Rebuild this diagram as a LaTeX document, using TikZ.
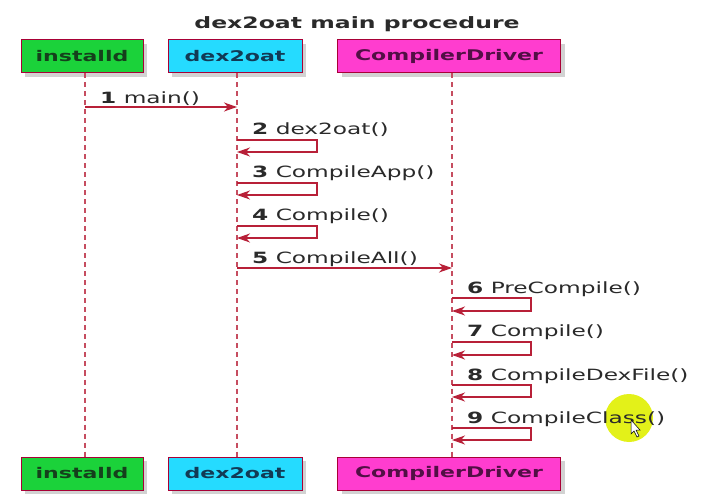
\documentclass[tikz,border=0pt]{standalone}
\usepackage{fontspec}
\setmainfont{DejaVu Sans}[FakeStretch=1.5]
\usetikzlibrary{arrows.meta,shadows}
\definecolor{brd}{HTML}{A80036}
\definecolor{arr}{HTML}{B82038}
\definecolor{gfill}{HTML}{1BD23A}
\definecolor{cfill}{HTML}{25DBFF}
\definecolor{mfill}{HTML}{FF3DCF}
\definecolor{gtext}{HTML}{15401C}
\definecolor{ctext}{HTML}{123A55}
\definecolor{mtext}{HTML}{520F45}
\definecolor{lblc}{HTML}{2A2A2A}
\definecolor{hl}{HTML}{E0F000}
\begin{document}
\begin{tikzpicture}[x=1pt,y=-1pt,
  part/.style={draw=brd, line width=1pt, minimum height=33pt, inner sep=0pt,
    font=\fontsize{14.7}{16}\selectfont\bfseries,
    drop shadow={shadow xshift=4pt,shadow yshift=-4pt,opacity=0.35}},
  life/.style={draw=arr!80, line width=1.2pt, dash pattern=on 5pt off 4pt},
  msg/.style={draw=arr, line width=1.2pt, -{Stealth[length=13pt,width=9pt,inset=4pt]}},
  lbl/.style={anchor=base west, inner sep=0pt, text=lblc, font=\fontsize{15.5}{17}\selectfont},
]
\useasboundingbox (0,0) rectangle (709,502);
\fill[white] (0,0) rectangle (709,502);

\node[font=\fontsize{15.7}{18}\selectfont\bfseries, text=lblc] (title) at (357,24) {dex2oat main procedure};

% participants
\node[part, fill=gfill, text=gtext, minimum width=122pt] (iT) at (82,56.5) {installd};
\node[part, fill=cfill, text=ctext, minimum width=134pt] (dT) at (235,56.5) {dex2oat};
\node[part, fill=mfill, text=mtext, minimum width=223pt] (cT) at (449,56.5) {CompilerDriver};
\node[part, fill=gfill, text=gtext, minimum width=122pt] (iB) at (82,473.5) {installd};
\node[part, fill=cfill, text=ctext, minimum width=134pt] (dB) at (235,473.5) {dex2oat};
\node[part, fill=mfill, text=mtext, minimum width=223pt] (cB) at (449,473.5) {CompilerDriver};

\coordinate (iL) at (85,0);
\coordinate (dL) at (237,0);
\coordinate (cL) at (452,0);

% lifelines
\draw[life] (iT.south -| iL) -- (iB.north -| iL);
\draw[life] (dT.south -| dL) -- (dB.north -| dL);
\draw[life] (cT.south -| cL) -- (cB.north -| cL);

% highlight circle (screen cursor)
\fill[hl, opacity=0.9] (629,418) circle[radius=24];

% messages
\node[lbl] (l1) at (100,104) {\textbf{1} main()};
\draw[msg] (iL |- 0,107) -- (dL |- 0,107);

\node[lbl] (l2) at (252,135) {\textbf{2} dex2oat()};
\draw[msg] (dL |- 0,140) -| (317,152) -- (dL |- 0,152);

\node[lbl] (l3) at (252,178) {\textbf{3} CompileApp()};
\draw[msg] (dL |- 0,183) -| (317,195) -- (dL |- 0,195);

\node[lbl] (l4) at (252,221) {\textbf{4} Compile()};
\draw[msg] (dL |- 0,226) -| (317,238) -- (dL |- 0,238);

\node[lbl] (l5) at (252,264) {\textbf{5} CompileAll()};
\draw[msg] (dL |- 0,268) -- (cL |- 0,268);

\node[lbl] (l6) at (467,294) {\textbf{6} PreCompile()};
\draw[msg] (cL |- 0,298) -| (531,311) -- (cL |- 0,311);

\node[lbl] (l7) at (467,337) {\textbf{7} Compile()};
\draw[msg] (cL |- 0,342) -| (531,355) -- (cL |- 0,355);

\node[lbl] (l8) at (467,380) {\textbf{8} CompileDexFile()};
\draw[msg] (cL |- 0,385) -| (531,397) -- (cL |- 0,397);

\node[lbl] (l9) at (467,423) {\textbf{9} CompileClass()};
\draw[msg] (cL |- 0,428) -| (531,440) -- (cL |- 0,440);

% mouse pointer
\draw[black, fill=white, line width=0.5pt] (631,420) -- (631,434) -- (634,431) -- (637,437) -- (639,436) -- (636,430) -- (640,430) -- cycle;
\end{tikzpicture}
\end{document}
